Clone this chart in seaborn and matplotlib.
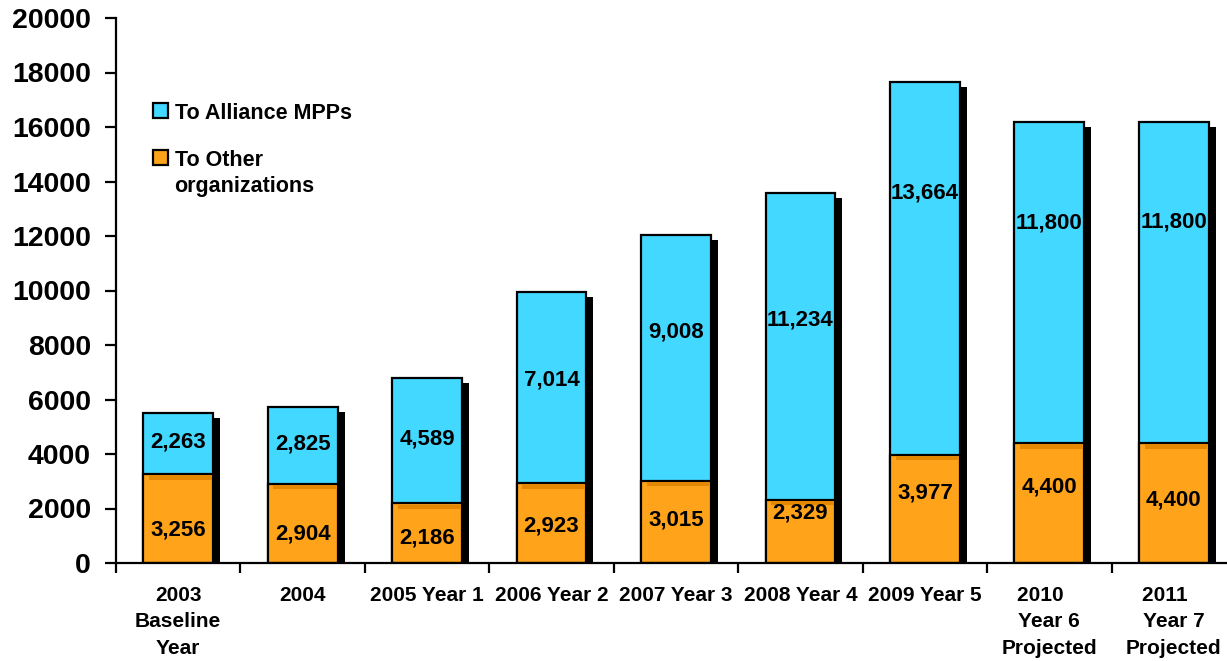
import matplotlib
matplotlib.use("Agg")
import matplotlib.pyplot as plt
import matplotlib.transforms as mtransforms
from matplotlib.patches import Rectangle, Patch
import numpy as np
import pandas as pd
import seaborn as sns

# ---- data -------------------------------------------------------------
categories = [
    "2003\nBaseline\nYear",
    "2004",
    "2005 Year 1",
    "2006 Year 2",
    "2007 Year 3",
    "2008 Year 4",
    "2009 Year 5",
    "2010   \nYear 6\nProjected",
    "2011   \nYear 7\nProjected",
]
to_other = [3256, 2904, 2186, 2923, 3015, 2329, 3977, 4400, 4400]
to_alliance = [2263, 2825, 4589, 7014, 9008, 11234, 13664, 11800, 11800]
y_ticks = list(range(0, 20001, 2000))

# vertical placement of the value labels (data units)
alliance_label_y = [4440, 4370, 4550, 6720, 8480, 8920, 13580, 12480, 12510]
other_label_y = [1210, 1060, 920, 1360, 1580, 1840, 2570, 2790, 2310]

CYAN = "#43D8FF"
ORANGE = "#FFA31A"
ORANGE_DARK = "#E38800"

sns.set_theme(style="white", rc={
    "text.color": "black",
    "axes.labelcolor": "black",
    "xtick.color": "black",
    "ytick.color": "black",
    "axes.edgecolor": "black",
})
plt.rcParams["font.family"] = ["Liberation Sans", "DejaVu Sans"]
plt.rcParams["font.weight"] = "bold"

df = pd.DataFrame({"year": categories, "other": to_other, "alliance": to_alliance})
df["total"] = df["other"] + df["alliance"]

W, H = 1227, 661
fig = plt.figure(figsize=(W / 100, H / 100), dpi=100)
ax = fig.add_axes([116 / W, 1 - 563 / H, 1120 / W, 545 / H])

bar_kw = dict(order=categories, saturation=1, width=0.56, edgecolor="black",
              linewidth=1.6, ax=ax)
sns.barplot(data=df, x="year", y="total", color=CYAN, zorder=2, **bar_kw)
total_bars = list(ax.patches)
sns.barplot(data=df, x="year", y="other", color=ORANGE, zorder=3, **bar_kw)
other_bars = list(ax.patches)[len(total_bars):]

# drop shadow behind each stacked column
shift = mtransforms.ScaledTranslation(0.07, -0.05, fig.dpi_scale_trans)
for p in total_bars:
    ax.add_patch(Rectangle(p.get_xy(), p.get_width(), p.get_height(),
                           transform=ax.transData + shift,
                           facecolor="black", edgecolor="none", zorder=1))

# darker strip just under the top of each orange segment
px = 20000 / 545
for p in other_bars:
    x, w, top = p.get_x(), p.get_width(), p.get_height()
    ax.add_patch(Rectangle((x + w * 0.08, top - 5.4 * px), w * 0.9, 4.3 * px,
                           facecolor=ORANGE_DARK, edgecolor="none", zorder=3.2))

# value labels
for i in range(len(categories)):
    ax.text(i, alliance_label_y[i], f"{to_alliance[i]:,}", ha="center", va="center",
            fontsize=16, fontweight="bold", zorder=5)
    ax.text(i, other_label_y[i], f"{to_other[i]:,}", ha="center", va="center",
            fontsize=16, fontweight="bold", zorder=5)

# axes, ticks
ax.set_xlim(-0.5, 8.5)
ax.set_ylim(0, 20000)
ax.set_yticks(y_ticks)
ax.set_xticks(range(len(categories)))
ax.set_xticklabels(categories)
ax.set_xticks(np.arange(-0.5, len(categories) + 0.5, 1), minor=True)
ax.set_xlabel("")
ax.set_ylabel("")
ax.tick_params(axis="x", which="major", bottom=True, length=0, pad=16.5, labelsize=15)
ax.tick_params(axis="x", which="minor", bottom=True, length=7, width=1.6,
               direction="out")
ax.tick_params(axis="y", left=True, length=8, width=1.6, direction="out", pad=10,
               labelsize=20.5)
for lbl in ax.get_xticklabels() + ax.get_yticklabels():
    lbl.set_fontweight("bold")
for lbl in ax.get_xticklabels():
    lbl.set_linespacing(1.5)

sns.despine(ax=ax)
for s in ("left", "bottom"):
    ax.spines[s].set_linewidth(1.6)
    ax.spines[s].set_color("black")
    ax.spines[s].set_zorder(6)

handles = [
    Patch(facecolor=CYAN, edgecolor="black", linewidth=1.6, label="To Alliance MPPs"),
    Patch(facecolor=ORANGE, edgecolor="black", linewidth=1.6,
          label="To Other\norganizations"),
]
leg = ax.legend(handles=handles, loc="upper left", bbox_to_anchor=(153 / W, 1 - 103 / H),
                bbox_transform=fig.transFigure, frameon=False, handlelength=0.7,
                handleheight=0.7, handletextpad=0.3, labelspacing=1.2, borderpad=0,
                borderaxespad=0, prop={"weight": "bold", "size": 15.5})
for t in leg.get_texts():
    t.set_linespacing(1.3)
# keep each swatch level with the first line of its label
try:
    for col in leg._legend_handle_box.get_children():
        for row in col.get_children():
            row.align = "top"
except AttributeError:
    pass

fig.savefig("out.png", dpi=100)
